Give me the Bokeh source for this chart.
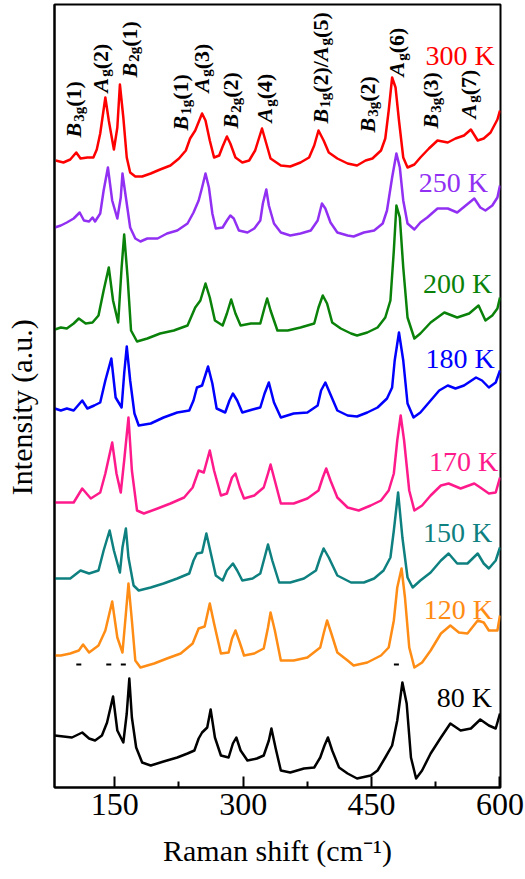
import math
from bokeh.plotting import figure
from bokeh.models import Range1d, Label, FixedTicker
from bokeh.embed import file_html
from bokeh.resources import INLINE

# ---------------- data (Raman shift in cm^-1, stacked intensity in a.u.) ----------------
temps = ["300 K", "250 K", "200 K", "180 K", "170 K", "150 K", "120 K", "80 K"]
colors = ["#FF0000", "#9130F2", "#0A820A", "#0000FF", "#FF1A8C", "#0F8080", "#FF8C14", "#000000"]

shift_300 = [81, 90, 98, 105, 110, 118, 125, 129, 133, 139, 143, 149, 153, 156, 160, 164, 168, 174, 182, 192,
             203, 215, 225, 233, 238, 244, 252, 256, 261, 266, 272, 276, 281, 285, 291, 299, 307, 314, 322, 326,
             332, 344, 355, 367, 377, 383, 388, 394, 400, 410, 422, 433, 443, 451, 461, 466, 470, 474, 478, 482,
             487, 492, 500, 507, 517, 527, 539, 548, 558, 566, 574, 581, 589, 597, 600]
int_300 = [627, 625, 628, 635, 629, 630, 630, 638, 654, 690, 667, 638, 660, 703, 670, 630, 615, 611, 611, 614,
           618, 622, 629, 637, 649, 657, 674, 667, 647, 630, 632, 641, 651, 644, 630, 625, 627, 637, 659, 647,
           629, 622, 621, 625, 630, 642, 657, 647, 635, 629, 624, 622, 627, 629, 637, 649, 677, 710, 700, 667,
           630, 620, 623, 630, 639, 647, 645, 649, 652, 658, 647, 649, 655, 668, 677]

shift_250 = [80, 87, 94, 102, 109, 114, 120, 124, 127, 133, 137, 142, 147, 153, 157, 159, 163, 168, 174, 180,
             188, 200, 211, 223, 235, 242, 248, 252, 256, 260, 264, 268, 276, 281, 285, 289, 295, 305, 313, 320,
             323, 327, 330, 336, 344, 355, 367, 379, 387, 392, 396, 402, 410, 422, 429, 441, 453, 463, 468, 474,
             479, 483, 487, 492, 500, 507, 515, 527, 539, 550, 560, 570, 577, 583, 591, 597, 600]
int_250 = [560, 562, 565, 569, 575, 567, 566, 570, 566, 574, 597, 620, 587, 569, 590, 614, 590, 560, 549, 546,
           549, 549, 554, 557, 564, 575, 587, 600, 614, 600, 574, 559, 560, 567, 572, 569, 557, 555, 559, 567,
           584, 598, 582, 564, 555, 552, 554, 557, 567, 584, 579, 565, 555, 552, 551, 555, 557, 564, 577, 610,
           634, 620, 587, 564, 558, 565, 570, 579, 579, 575, 582, 589, 580, 577, 582, 590, 602]

shift_200 = [80, 87, 94, 102, 108, 116, 124, 131, 137, 143, 148, 154, 158, 161, 165, 169, 176, 188, 203, 219,
             235, 244, 250, 256, 261, 267, 276, 281, 286, 291, 297, 309, 320, 325, 328, 332, 340, 352, 367, 383,
             388, 393, 398, 404, 414, 426, 433, 445, 457, 466, 472, 476, 479, 483, 487, 492, 500, 507, 519, 535,
             550, 564, 575, 583, 591, 597, 600]
int_200 = [458, 460, 459, 464, 469, 464, 465, 472, 497, 520, 487, 465, 520, 553, 510, 457, 446, 449, 454, 457,
           462, 480, 487, 504, 490, 467, 462, 474, 488, 474, 462, 464, 464, 480, 489, 477, 457, 457, 460, 464,
           480, 492, 484, 465, 459, 454, 452, 455, 460, 470, 487, 537, 582, 570, 520, 470, 449, 454, 465, 475,
           470, 474, 482, 467, 472, 479, 490]

shift_180 = [80, 87, 94, 102, 112, 118, 126, 133, 139, 146, 151, 158, 161, 164, 168, 173, 178, 192, 207, 223,
             237, 242, 246, 252, 259, 264, 269, 279, 284, 288, 293, 299, 311, 320, 325, 330, 336, 344, 359, 375,
             387, 391, 396, 400, 410, 422, 433, 445, 457, 468, 474, 477, 482, 487, 492, 499, 507, 519, 529, 539,
             548, 558, 572, 579, 587, 595, 600]
int_180 = [379, 377, 379, 377, 387, 379, 382, 385, 407, 429, 390, 380, 414, 441, 407, 374, 362, 364, 370, 375,
           377, 387, 400, 402, 421, 404, 379, 375, 387, 394, 387, 375, 378, 380, 394, 405, 385, 370, 374, 375,
           382, 397, 405, 397, 377, 372, 371, 375, 380, 389, 400, 427, 455, 427, 384, 370, 375, 387, 397, 402,
           399, 402, 410, 407, 400, 405, 417]

shift_170 = [80, 87, 102, 112, 122, 133, 139, 147, 152, 157, 161, 166, 170, 176, 184, 200, 215, 231, 241, 248,
             254, 261, 266, 274, 281, 287, 291, 296, 301, 313, 324, 329, 332, 336, 344, 359, 375, 388, 393, 397,
             402, 410, 422, 435, 449, 461, 470, 476, 480, 484, 488, 494, 500, 509, 519, 531, 540, 554, 570, 577,
             587, 595, 600]
int_170 = [285, 285, 285, 299, 289, 295, 314, 345, 314, 295, 327, 370, 317, 277, 274, 279, 284, 290, 300, 317,
           315, 337, 317, 292, 294, 310, 314, 300, 289, 292, 300, 314, 323, 310, 284, 284, 289, 297, 310, 319,
           307, 290, 280, 277, 282, 287, 297, 314, 347, 372, 347, 297, 277, 282, 292, 302, 304, 299, 304, 300,
           294, 295, 310]

shift_150 = [80, 87, 98, 110, 120, 131, 137, 144, 149, 156, 159, 163, 166, 172, 178, 192, 207, 223, 237, 242,
             246, 252, 257, 262, 268, 276, 281, 288, 293, 299, 311, 320, 325, 329, 334, 342, 355, 371, 385, 390,
             394, 400, 410, 426, 441, 453, 464, 472, 476, 481, 486, 492, 498, 507, 519, 531, 540, 550, 562, 574,
             581, 587, 595, 600]
int_150 = [209, 209, 209, 217, 214, 217, 237, 257, 237, 215, 240, 259, 230, 202, 197, 200, 204, 209, 214, 227,
           234, 235, 254, 235, 212, 207, 217, 224, 217, 207, 209, 214, 230, 243, 227, 205, 205, 209, 217, 230,
           239, 230, 212, 205, 205, 209, 217, 230, 257, 295, 250, 210, 200, 207, 215, 227, 234, 224, 224, 234,
           224, 219, 227, 240]

shift_120 = [80, 87, 98, 108, 113, 120, 131, 139, 147, 153, 159, 163, 166, 170, 174, 180, 196, 211, 227, 241,
             248, 255, 261, 266, 274, 283, 287, 291, 296, 301, 313, 324, 329, 332, 337, 344, 359, 375, 390, 394,
             398, 403, 410, 422, 429, 445, 461, 470, 476, 480, 485, 489, 494, 500, 509, 519, 531, 542, 552, 562,
             574, 581, 587, 597, 600]
int_120 = [132, 132, 134, 137, 143, 135, 142, 157, 186, 150, 135, 174, 204, 167, 127, 120, 124, 129, 134, 144,
           159, 161, 184, 164, 134, 135, 149, 157, 145, 132, 134, 139, 160, 175, 157, 127, 127, 130, 140, 154,
           167, 154, 135, 127, 122, 125, 132, 140, 167, 200, 219, 190, 140, 120, 125, 137, 154, 162, 155, 154,
           167, 165, 157, 157, 172]

shift_80 = [80, 90, 100, 112, 120, 127, 135, 141, 148, 153, 160, 164, 167, 170, 175, 182, 192, 207, 223, 235,
            243, 248, 252, 258, 262, 267, 274, 283, 288, 292, 297, 305, 316, 324, 330, 333, 338, 344, 355, 371,
            383, 390, 395, 399, 404, 412, 422, 433, 449, 457, 466, 474, 480, 486, 491, 496, 502, 509, 519, 531,
            542, 554, 566, 577, 587, 595, 600]
int_80 = [52, 51, 50, 55, 49, 47, 52, 65, 91, 57, 45, 74, 109, 70, 40, 25, 22, 26, 30, 34,
          37, 49, 55, 60, 78, 50, 32, 30, 44, 50, 37, 27, 29, 32, 47, 59, 39, 17, 15, 19,
          20, 30, 42, 50, 37, 20, 14, 9, 12, 17, 30, 42, 67, 105, 84, 30, 9, 17, 34, 50,
          64, 57, 59, 68, 62, 59, 74]

# small marks under the 120 K spectrum
mark_shift = [108, 143, 160, 479]
mark_int = [123, 123, 123, 123]

x_ticks = [150, 300, 450, 600]
x_minor = [225, 375, 525]

# mode assignments: (parts, shift of label baseline, intensity where label starts)
modes = [
    ([("B", "m"), ("3g", "s"), ("(1)", "t")], 111, 650),
    ([("A", "m"), ("g", "s"), ("(2)", "t")], 141.5, 695),
    ([("B", "m"), ("2g", "s"), ("(1)", "t")], 175.5, 710),
    ([("B", "m"), ("1g", "s"), ("(1)", "t")], 236, 657),
    ([("A", "m"), ("g", "s"), ("(3)", "t")], 259.5, 695),
    ([("B", "m"), ("2g", "s"), ("(2)", "t")], 294.5, 659),
    ([("A", "m"), ("g", "s"), ("(4)", "t")], 334, 665),
    ([("B", "m"), ("1g", "s"), ("(2)/", "t"), ("A", "m"), ("g", "s"), ("(5)", "t")], 398.5, 664),
    ([("B", "m"), ("3g", "s"), ("(2)", "t")], 454.5, 655),
    ([("A", "m"), ("g", "s"), ("(6)", "t")], 487.5, 711),
    ([("B", "m"), ("3g", "s"), ("(3)", "t")], 528, 659),
    ([("A", "m"), ("g", "s"), ("(7)", "t")], 571.5, 669),
]

# temperature labels: left start (cm^-1), baseline (a.u.)
temp_label_x = [513, 505, 510, 513, 517, 510, 511, 526]
temp_label_y = [722, 595, 494, 419, 316, 245, 168, 80]

shifts = [shift_300, shift_250, shift_200, shift_180, shift_170, shift_150, shift_120, shift_80]
ints = [int_300, int_250, int_200, int_180, int_170, int_150, int_120, int_80]

# ---------------- figure ----------------
SERIF = "Liberation Serif"
BASE_FIX = 0.34  # em shift so that the anchor sits on the alphabetic baseline

p = figure(width=525, height=879, output_backend="svg", toolbar_location=None,
           x_range=Range1d(79.6, 600.6), y_range=Range1d(0, 783),
           min_border_left=54, min_border_right=25, min_border_top=4, min_border_bottom=92)
p.grid.visible = False
p.background_fill_color = "white"
p.border_fill_color = "white"
p.outline_line_color = "black"
p.outline_line_width = 2

p.xaxis.ticker = FixedTicker(ticks=x_ticks, minor_ticks=x_minor)
p.xaxis.major_tick_in = 11
p.xaxis.major_tick_out = 0
p.xaxis.minor_tick_in = 6
p.xaxis.minor_tick_out = 0
p.xaxis.major_tick_line_width = 2
p.xaxis.minor_tick_line_width = 2
p.xaxis.axis_line_width = 2
p.xaxis.major_label_text_font = SERIF
p.xaxis.major_label_text_font_size = "32px"
p.xaxis.major_label_text_color = "black"
p.xaxis.major_label_standoff = 6
p.xaxis.axis_label = "Raman shift (cm\u207b\u00b9)"
p.xaxis.axis_label_text_font = SERIF
p.xaxis.axis_label_text_font_size = "30px"
p.xaxis.axis_label_text_font_style = "normal"
p.xaxis.axis_label_text_color = "black"
p.xaxis.axis_label_standoff = 16

p.yaxis.ticker = FixedTicker(ticks=[])
p.yaxis.major_tick_in = 0
p.yaxis.major_tick_out = 0
p.yaxis.minor_tick_in = 0
p.yaxis.minor_tick_out = 0
p.yaxis.major_label_standoff = 0
p.yaxis.axis_line_width = 2
p.yaxis.axis_label = "Intensity (a.u.)\u00a0\u00a0\u00a0"
p.yaxis.axis_label_text_font = SERIF
p.yaxis.axis_label_text_font_size = "30px"
p.yaxis.axis_label_text_font_style = "normal"
p.yaxis.axis_label_text_color = "black"
p.yaxis.axis_label_standoff = 17

for xs, ys, c in zip(shifts, ints, colors):
    p.line(xs, ys, line_color=c, line_width=2.5, line_join="round")

p.scatter(mark_shift, mark_int, marker="dash", size=5, line_color="black", line_width=2)

TSIZE = 28
for t, c, lx, ly in zip(temps, colors, temp_label_x, temp_label_y):
    p.add_layout(Label(x=lx, y=ly, y_offset=BASE_FIX * TSIZE, text=t, text_font=SERIF,
                       text_font_size=f"{TSIZE}px", text_color=c,
                       text_align="left", text_baseline="alphabetic"))

# glyph advance widths (em) for Times-like bold fonts
W = {"A": 0.667, "B": 0.667, "(": 0.333, ")": 0.333, "/": 0.278, "g": 0.5}
for d in "0123456789":
    W[d] = 0.5

MAIN, SUB = 22, 15
for parts, bx, by in modes:
    off = 0.0
    for text, kind in parts:
        if kind == "m":
            size, style, dx = MAIN, "bold italic", 0
        elif kind == "s":
            size, style, dx = SUB, "bold", 3
        else:
            size, style, dx = MAIN, "bold", 0
        p.add_layout(Label(x=bx, y=by, x_offset=dx - BASE_FIX * size, y_offset=off, text=text,
                           angle=math.pi / 2, text_font=SERIF, text_font_size=f"{size}px",
                           text_font_style=style, text_color="black",
                           text_align="left", text_baseline="alphabetic"))
        off += sum(W.get(ch, 0.5) for ch in text) * size + (1 if kind == "m" else 0)

open("out.html", "w").write(file_html(p, INLINE))
